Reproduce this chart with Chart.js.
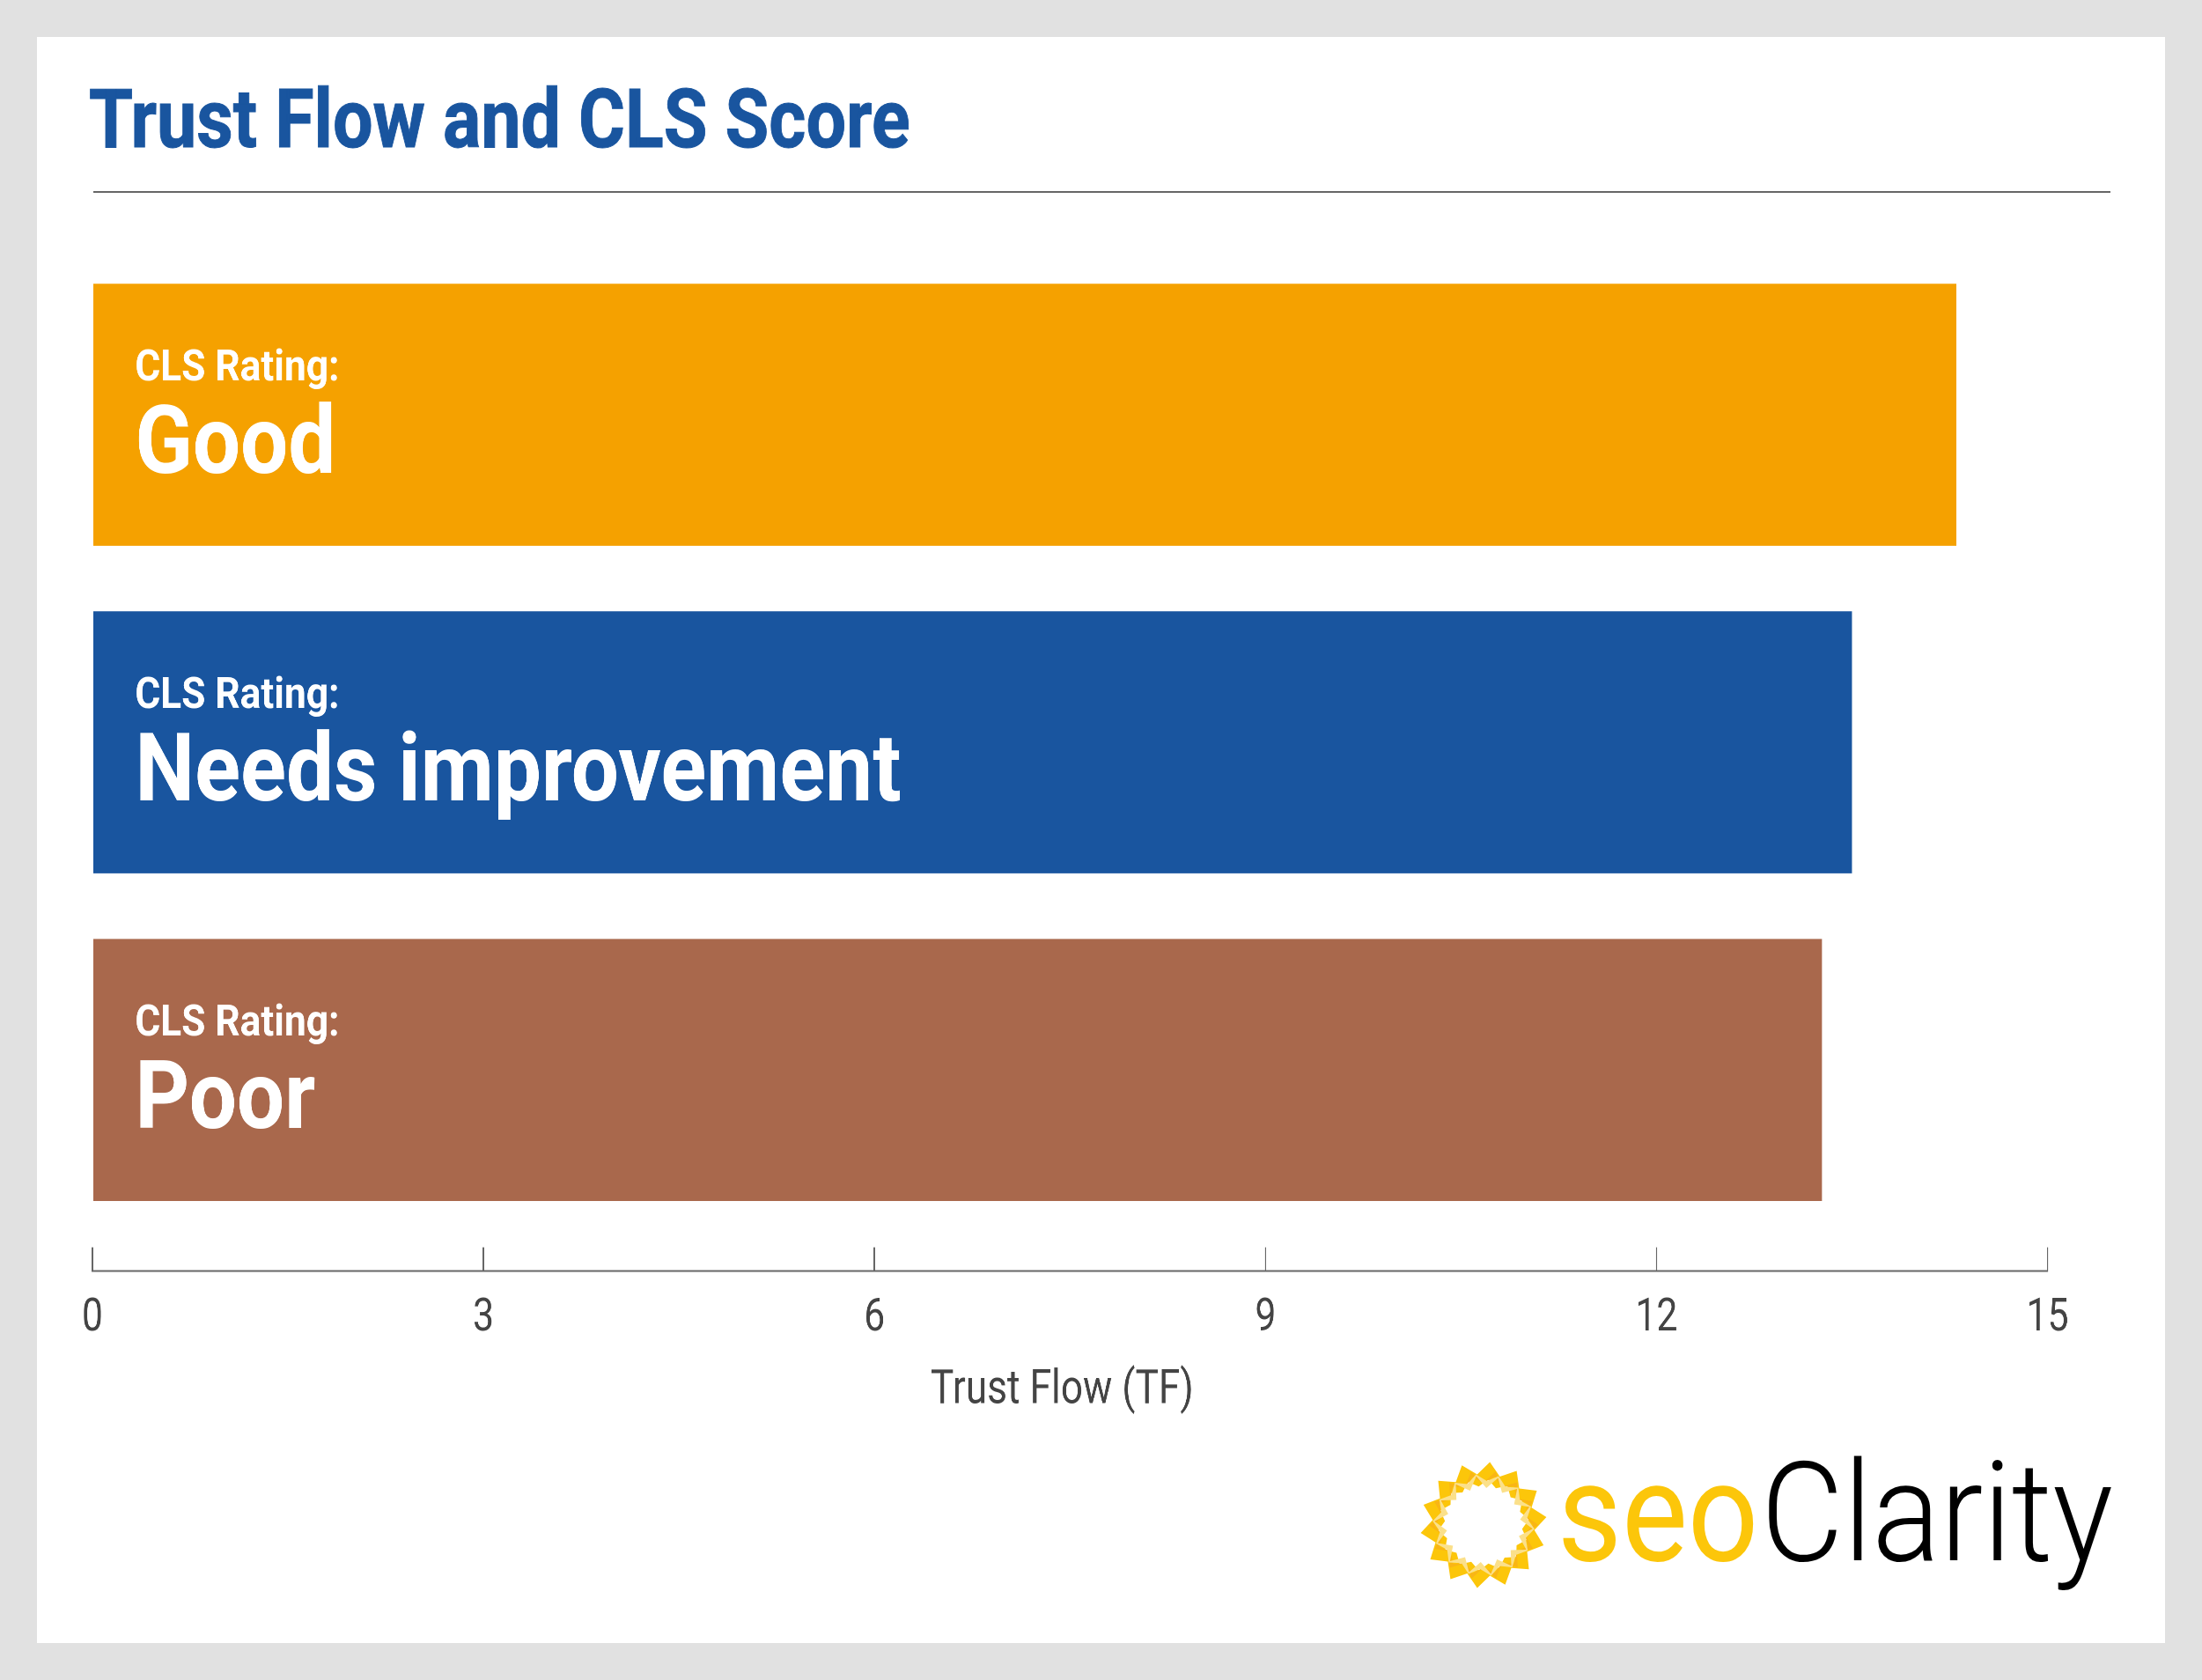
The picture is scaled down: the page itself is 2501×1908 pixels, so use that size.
<!DOCTYPE html>
<html>
<head>
<meta charset="utf-8">
<script src="https://cdn.jsdelivr.net/npm/chart.js@4"></script>
<style>
html, body { margin: 0; width: 2501px; height: 1908px; overflow: hidden; background: #e1e1e1; font-family: Roboto, sans-serif; }
#panel { position: absolute; left: 42px; top: 42px; width: 2417px; height: 1824px; background: #fff; }
#rule { position: absolute; left: 106px; top: 217px; width: 2291px; height: 2px; background: #666; }
#title { position: absolute; left: 101px; top: 81px; margin: 0; font-size: 93px; line-height: 109px; font-weight: 700; color: #19559f; white-space: nowrap; transform: scaleX(0.869); transform-origin: 0 0; -webkit-text-stroke: 1px #19559f; }
/* no condensed Roboto installed, so the whole canvas gets squeezed sideways */
#wrap { position: absolute; left: 0; top: 0; width: 3050px; height: 1908px; transform: scaleX(0.82); transform-origin: 0 0; }
.logo { position: absolute; font-size: 157px; line-height: 157px; white-space: nowrap; transform-origin: 0 0; }
#seo { left: 1769px; top: 1640px; color: #fcc60a; font-weight: 400; transform: scaleX(0.9); }
#clarity { left: 2000px; top: 1640px; color: #000; font-weight: 300; transform: scaleX(0.92); }
#sun { position: absolute; left: 1605px; top: 1652px; }
</style>
</head>
<body>
<div id="panel"></div>
<div id="rule"></div>
<h1 id="title"></h1>
<div id="wrap"><canvas id="myChart" width="3050" height="1908"></canvas></div>
<svg id="sun" width="160" height="160" viewBox="-80 -80 160 160"></svg>
<span class="logo" id="seo">seo</span>
<span class="logo" id="clarity">Clarity</span>
<script>
const chartTitle = 'Trust Flow and CLS Score';
const axisTitle = 'Trust Flow (TF)';
const ratingLabel = 'CLS Rating:';
const categories = ['Good', 'Needs improvement', 'Poor'];
const trustFlow = [14.3, 13.5, 13.27];
const barColors = ['#f5a100', '#19559f', '#a9684c'];
const xTicks = [0, 3, 6, 9, 12, 15];
const yPositions = [0, 1, 2];

document.getElementById('title').textContent = chartTitle;

// text the chart can't place by itself: labels in the bars, off-centre axis title
const extraText = {
    id: 'extraText',
    afterDatasetsDraw(chart) {
        const ctx = chart.ctx;
        const x = chart.scales.x;
        const left = x.getPixelForValue(0) + 59;
        ctx.save();
        ctx.textBaseline = 'alphabetic';
        ctx.fillStyle = '#fff';
        chart.getDatasetMeta(0).data.forEach((bar, i) => {
            ctx.save();
            ctx.translate(left, bar.y);
            ctx.save();
            ctx.scale(1.1, 1);
            ctx.font = 'bold 49px Roboto';
            ctx.fillText(ratingLabel, 0, -39);
            ctx.restore();
            ctx.scale(1.085, 1);
            ctx.font = 'bold 108px Roboto';
            ctx.fillText(categories[i], 0, 66);
            ctx.restore();
        });
        ctx.fillStyle = '#444';
        ctx.textAlign = 'center';
        ctx.font = '400 54px Roboto';
        ctx.fillText(axisTitle, x.getPixelForValue(7.44), x.top + 150);
        ctx.restore();
    }
};

new Chart(document.getElementById('myChart').getContext('2d'), {
    type: 'bar',
    plugins: [extraText],
    data: {
        labels: categories,
        datasets: [{
            data: categories.map((c, i) => ({ x: trustFlow[i], y: yPositions[i] })),
            backgroundColor: barColors,
            categoryPercentage: 1,
            barPercentage: 0.8
        }]
    },
    options: {
        indexAxis: 'y',
        responsive: false,
        animation: false,
        devicePixelRatio: 2,
        layout: { padding: { left: 128, right: 214, top: 285, bottom: 329 } },
        plugins: {
            legend: { display: false },
            tooltip: { enabled: false }
        },
        scales: {
            x: {
                type: 'linear',
                min: 0,
                max: 15,
                afterBuildTicks(scale) { scale.ticks = xTicks.map(v => ({ value: v })); },
                grid: { drawOnChartArea: false, color: '#666', lineWidth: 2, tickLength: -27 },
                border: { color: '#666', width: 2 },
                ticks: { color: '#444', padding: 50, maxRotation: 0, font: { family: 'Roboto', size: 52, weight: 400 } }
            },
            y: {
                type: 'linear',
                display: false,
                offset: false,
                reverse: true,
                min: -0.5,
                max: 2.614,
                afterBuildTicks(scale) { scale.ticks = yPositions.map(v => ({ value: v })); }
            }
        }
    }
});

// logo mark: zigzag rings on top of each other
function ring(rot, outer, inner, color) {
    let pts = [];
    for (let i = 0; i < 28; i++) {
        const a = rot + i * Math.PI / 14;
        const r = i % 2 ? outer : outer - 14;
        pts.push((r * Math.cos(a)).toFixed(1) + ',' + (r * Math.sin(a)).toFixed(1));
    }
    let back = [];
    for (let i = 27; i >= 0; i--) {
        const a = rot + i * Math.PI / 14;
        const r = i % 2 ? inner + 8 : inner;
        back.push((r * Math.cos(a)).toFixed(1) + ',' + (r * Math.sin(a)).toFixed(1));
    }
    const p = document.createElementNS('http://www.w3.org/2000/svg', 'path');
    p.setAttribute('d', 'M' + pts.join('L') + 'Z M' + back.join('L') + 'Z');
    p.setAttribute('fill', color);
    p.setAttribute('fill-rule', 'evenodd');
    document.getElementById('sun').appendChild(p);
}
ring(0.1, 72, 44, '#fcc60a');
ring(0.22, 62, 48, '#f9b516');
ring(0.3, 56, 50, '#fbe08a');
</script>
</body>
</html>
